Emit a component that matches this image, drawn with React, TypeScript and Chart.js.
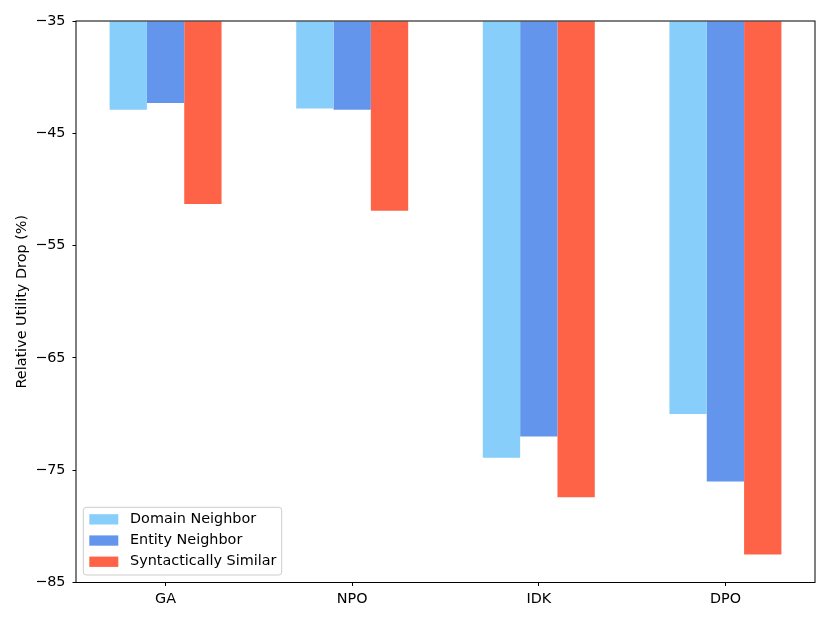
import { Chart, registerables } from 'chart.js';
import { useEffect, useRef } from 'react';

Chart.register(...registerables);

const categories = ['GA', 'NPO', 'IDK', 'DPO'];
const domainNeighbor = [-42.9, -42.8, -73.9, -70.0];
const entityNeighbor = [-42.3, -42.9, -72.0, -76.0];
const syntacticallySimilar = [-51.3, -51.9, -77.4, -82.5];
const seriesNames = ['Domain Neighbor', 'Entity Neighbor', 'Syntactically Similar'];
const seriesColors = ['#87CEFA', '#6495ED', '#FF6347'];
const yMin = -85;
const yMax = -35;
const yStep = 10;

const FONT = "'DejaVu Sans', sans-serif";
const FS = 14.4;

// cadre complet + légende dans le coin bas gauche
const framePlugin = {
  id: 'frame',
  afterDraw(chart: Chart) {
    const { ctx, chartArea: a } = chart;
    ctx.save();
    ctx.strokeStyle = '#000';
    ctx.lineWidth = 1;
    ctx.strokeRect(a.left, a.top, a.right - a.left, a.bottom - a.top);

    const bx = a.left + 7.3;
    const by = a.bottom - 75.2;
    const bw = 198.4;
    const bh = 67.7;
    ctx.beginPath();
    ctx.roundRect(bx, by, bw, bh, 3);
    ctx.fillStyle = 'rgba(255,255,255,0.8)';
    ctx.fill();
    ctx.strokeStyle = '#cccccc';
    ctx.stroke();

    ctx.font = `${FS}px ${FONT}`;
    ctx.textBaseline = 'middle';
    chart.data.datasets.forEach((ds, i) => {
      const cy = by + 12 + i * 21.2;
      ctx.fillStyle = ds.backgroundColor as string;
      ctx.fillRect(bx + 6, cy - 5.1, 29, 10.3);
      ctx.fillStyle = '#000';
      ctx.fillText(ds.label as string, bx + 46.7, cy);
    });
    ctx.restore();
  },
};

export default function App() {
  const canvasRef = useRef<HTMLCanvasElement>(null);

  useEffect(() => {
    const chart = new Chart(canvasRef.current!, {
      type: 'bar',
      data: {
        labels: categories,
        datasets: [domainNeighbor, entityNeighbor, syntacticallySimilar].map((d, i) => ({
          label: seriesNames[i],
          data: d,
          base: yMax,
          backgroundColor: seriesColors[i],
          borderWidth: 0,
          categoryPercentage: 0.6,
          barPercentage: 1.0,
        })),
      },
      options: {
        animation: false,
        responsive: false,
        layout: { padding: { left: 0, top: 21, right: 15, bottom: 0 } },
        plugins: { legend: { display: false }, tooltip: { enabled: false } },
        scales: {
          x: {
            offset: true,
            border: { display: false },
            grid: { offset: false, drawOnChartArea: false, tickLength: 3.5, color: '#000' },
            ticks: { color: '#000', font: { family: FONT, size: FS }, padding: 5 },
            // marges type matplotlib : -0.48 .. 3.48
            afterBuildTicks: (scale: any) => {
              scale._startValue = -0.48;
              scale._valueRange = categories.length - 1 + 0.96;
            },
            afterFit: (scale) => {
              scale.height = 40.5;
            },
          },
          y: {
            min: yMin,
            max: yMax,
            border: { display: false },
            grid: { drawOnChartArea: false, tickLength: 3.5, color: '#000' },
            ticks: {
              stepSize: yStep,
              color: '#000',
              font: { family: FONT, size: FS },
              padding: 7,
              callback: (v) => String(v).replace('-', '\u2212'),
            },
            title: {
              display: true,
              text: 'Relative Utility Drop (%)',
              color: '#000',
              font: { family: FONT, size: FS },
              padding: { top: 13.4, bottom: 0 },
            },
            afterFit: (scale) => {
              scale.width = 76;
            },
          },
        },
      },
      plugins: [framePlugin],
    });
    return () => chart.destroy();
  }, []);

  return (
    <div style={{ position: 'absolute', left: 0, top: 0, width: 830, height: 623, background: '#fff' }}>
      <canvas ref={canvasRef} width={830} height={623} />
    </div>
  );
}
